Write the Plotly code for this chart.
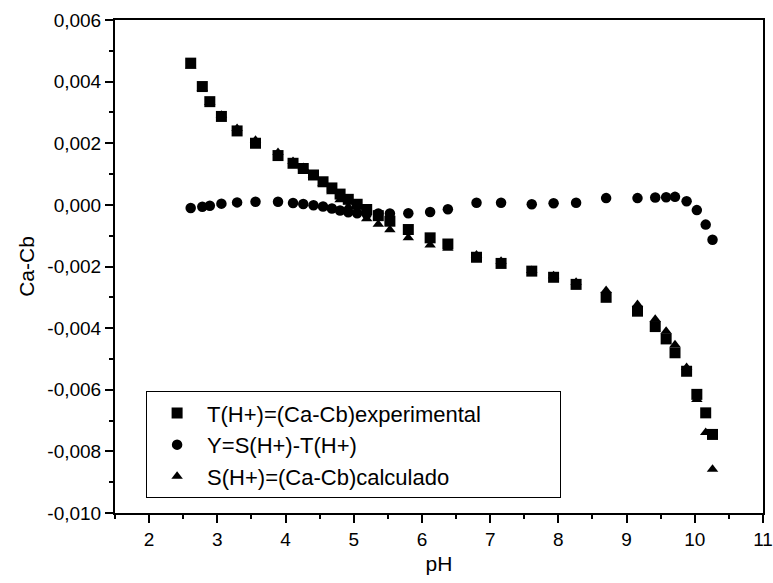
import plotly.graph_objects as go

ph = [2.61, 2.78, 2.89, 3.06, 3.29, 3.56, 3.89, 4.11, 4.26, 4.41, 4.55, 4.68, 4.80, 4.92,
      5.05, 5.19, 5.36, 5.53, 5.80, 6.12, 6.38, 6.80, 7.16, 7.61, 7.93, 8.26, 8.70, 9.16,
      9.42, 9.58, 9.71, 9.88, 10.03, 10.16, 10.26]

t_exp = [0.0046, 0.00384, 0.00335, 0.00287, 0.00240, 0.00200, 0.00160, 0.00135, 0.00118,
         0.00097, 0.00075, 0.00055, 0.00035, 0.00018, 0.00002, -0.00015, -0.00035, -0.00053,
         -0.00080, -0.00107, -0.00127, -0.00170, -0.00190, -0.00215, -0.00235, -0.00258,
         -0.00300, -0.00345, -0.00395, -0.00435, -0.00480, -0.00540, -0.00615, -0.00675,
         -0.00745]

y_diff = [-0.0001, -0.00006, -0.00003, 0.00004, 0.00008, 0.0001, 0.0001, 0.00006, 0.00003,
          -0.00001, -0.00005, -0.00012, -0.00018, -0.00024, -0.00027, -0.0003, -0.00028,
          -0.00028, -0.00027, -0.00023, -0.00014, 0.00007, 0.00007, 0.00002, 0.00005, 0.00007,
          0.00022, 0.00022, 0.00024, 0.00025, 0.00026, 0.00012, -0.00017, -0.00064, -0.00113]

s_calc = [0.0045, 0.00378, 0.00332, 0.00291, 0.00248, 0.0021, 0.0017, 0.00141, 0.00121,
          0.00096, 0.0007, 0.00043, 0.00017, -0.00006, -0.00025, -0.00045, -0.00063, -0.00081,
          -0.00107, -0.0013, -0.00141, -0.00163, -0.00183, -0.00213, -0.0023, -0.00251,
          -0.00278, -0.00323, -0.00371, -0.0041, -0.00454, -0.00528, -0.00632, -0.00739,
          -0.00858]

x_ticks = [2, 3, 4, 5, 6, 7, 8, 9, 10, 11]
y_ticks = [0.006, 0.004, 0.002, 0.0, -0.002, -0.004, -0.006, -0.008, -0.010]
y_tick_text = ["0,006", "0,004", "0,002", "0,000", "-0,002", "-0,004", "-0,006", "-0,008", "-0,010"]

names = ["T(H+)=(Ca-Cb)experimental", "Y=S(H+)-T(H+)", "S(H+)=(Ca-Cb)calculado"]

FONT = "Liberation Sans, Arial, sans-serif"
PAD = "\u00a0" * 12  # extra room on the right of the legend box

fig = go.Figure()
fig.add_trace(go.Scatter(x=ph, y=s_calc, mode="markers", name=names[2],
                         marker=dict(symbol="triangle-up", size=10, color="black", line=dict(width=0))))
fig.add_trace(go.Scatter(x=ph, y=y_diff, mode="markers", name=names[1],
                         marker=dict(symbol="circle", size=10.5, color="black", line=dict(width=0))))
fig.add_trace(go.Scatter(x=ph, y=t_exp, mode="markers", name=names[0] + PAD,
                         marker=dict(symbol="square", size=11, color="black", line=dict(width=0))))

axis_common = dict(showline=True, linecolor="black", linewidth=2, mirror=True,
                   ticks="outside", tickcolor="black", tickwidth=2, ticklen=8,
                   showgrid=False, zeroline=False, automargin=False,
                   ticklabeloverflow="allow",
                   tickfont=dict(family=FONT, size=19, color="black"))

fig.update_xaxes(range=[1.5, 11], tickvals=x_ticks,
                 title=dict(text="pH", font=dict(family=FONT, size=21, color="black"), standoff=8),
                 minor=dict(dtick=0.5, ticks="outside", ticklen=4, tickwidth=2, tickcolor="black"),
                 **axis_common)
fig.update_yaxes(range=[-0.010, 0.006], tickvals=y_ticks, ticktext=y_tick_text,
                 title=dict(text="Ca-Cb", font=dict(family=FONT, size=21, color="black"), standoff=7),
                 minor=dict(dtick=0.001, ticks="outside", ticklen=4, tickwidth=2, tickcolor="black"),
                 **axis_common)

fig.update_layout(
    width=773, height=583,
    margin=dict(l=115, r=10, t=20, b=70, autoexpand=False),
    plot_bgcolor="white", paper_bgcolor="white",
    font=dict(family=FONT, color="black"),
    legend=dict(x=0.048, y=0.247, xanchor="left", yanchor="top",
                traceorder="reversed",
                bgcolor="white", bordercolor="black", borderwidth=1,
                font=dict(family=FONT, size=22, color="black"),
                itemwidth=50),
)

fig.write_html("out.html", config={"displayModeBar": False},
               post_script="document.body.style.margin='0px';")
